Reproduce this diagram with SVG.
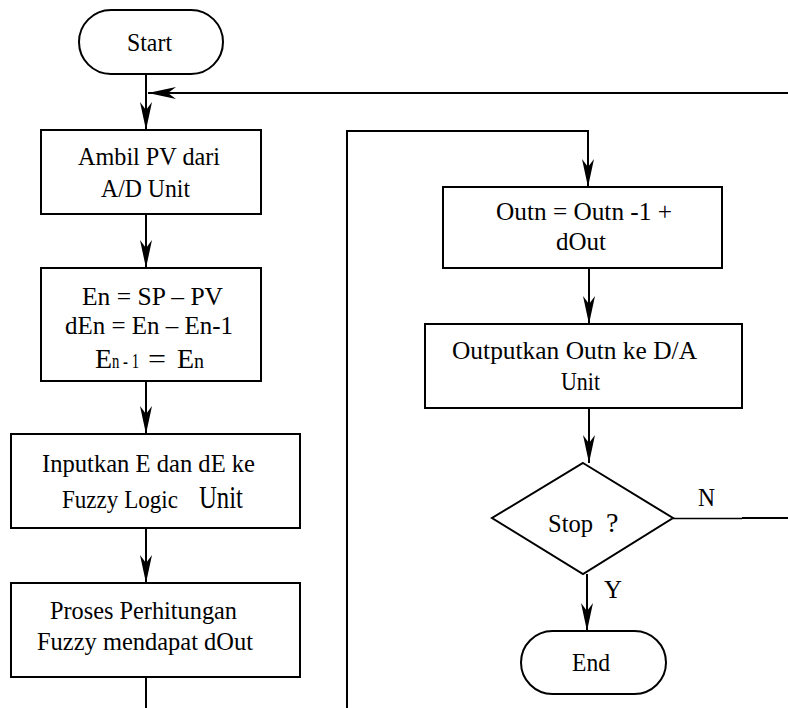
<svg xmlns="http://www.w3.org/2000/svg" width="788" height="708" viewBox="0 0 788 708">
<style>
.box{fill:#fff;stroke:#000;stroke-width:2}
.ln{fill:none;stroke:#000;stroke-width:2}
text{font-family:'Liberation Serif','Times New Roman',serif;font-size:26px;fill:#000}
</style>
<defs>
<marker id="ah" viewBox="-31 -7 32 14" refX="0" refY="0" markerWidth="32" markerHeight="14" markerUnits="userSpaceOnUse" orient="auto">
<path d="M0,0 L-28,-6 L-20,0 L-28,6 Z" fill="#000"/>
</marker>
</defs>
<rect width="788" height="708" fill="#fff"/>
<g id="connectors">
<path class="ln" d="M146,74 V130" marker-end="url(#ah)"/>
<path class="ln" d="M788,93 H148" marker-end="url(#ah)"/>
<path class="ln" d="M146,214 V268" marker-end="url(#ah)"/>
<path class="ln" d="M146,381 V434" marker-end="url(#ah)"/>
<path class="ln" d="M146,528 V583" marker-end="url(#ah)"/>
<path class="ln" d="M146,677 V708"/>
<path class="ln" d="M347,708 V131 H588 V187" marker-end="url(#ah)"/>
<path class="ln" d="M589,268 V324" marker-end="url(#ah)"/>
<path class="ln" d="M589,408 V463" marker-end="url(#ah)"/>
<path class="ln" d="M587,574 V631" marker-end="url(#ah)"/>
<path fill="none" stroke="#000" stroke-width="1.4" d="M673,518.5 H742"/>
<path class="ln" d="M742,518 H788"/>
<text font-family="Liberation Serif, serif" x="698" y="506" textLength="17" lengthAdjust="spacingAndGlyphs">N</text>
<text font-family="Liberation Serif, serif" x="604" y="598" textLength="18" lengthAdjust="spacingAndGlyphs">Y</text>
</g>
<g id="start" font-family="Liberation Serif, serif">
<rect class="box" x="79" y="10" width="144" height="64" rx="32" ry="32"/>
<text x="127" y="51" textLength="45" lengthAdjust="spacingAndGlyphs">Start</text>
</g>
<g id="ambil" font-family="Liberation Serif, serif">
<rect class="box" x="41" y="130" width="220" height="84"/>
<text x="78" y="165" textLength="142" lengthAdjust="spacingAndGlyphs">Ambil PV dari</text>
<text x="101" y="197" textLength="89" lengthAdjust="spacingAndGlyphs">A/D Unit</text>
</g>
<g id="hitung-error" font-family="Liberation Serif, serif">
<rect class="box" x="41" y="268" width="220" height="113"/>
<text x="82" y="305" textLength="141" lengthAdjust="spacingAndGlyphs">En = SP – PV</text>
<text x="65" y="334" textLength="168" lengthAdjust="spacingAndGlyphs">dEn = En – En-1</text>
<text y="368"><tspan x="95" style="font-size:28px">E</tspan><tspan x="112" style="font-size:20px" textLength="27" lengthAdjust="spacingAndGlyphs">n - 1</tspan><tspan x="148" style="font-size:28px" textLength="18" lengthAdjust="spacingAndGlyphs">=</tspan><tspan x="177" style="font-size:28px">E</tspan><tspan x="194" style="font-size:20px">n</tspan></text>
</g>
<g id="input-fuzzy" font-family="Liberation Serif, serif">
<rect class="box" x="11" y="434" width="289" height="94"/>
<text x="42" y="472" textLength="213" lengthAdjust="spacingAndGlyphs">Inputkan E dan dE ke</text>
<text x="62" y="508" textLength="116" lengthAdjust="spacingAndGlyphs">Fuzzy Logic</text>
<text x="199" y="508" style="font-size:31px" textLength="44" lengthAdjust="spacingAndGlyphs">Unit</text>
</g>
<g id="proses" font-family="Liberation Serif, serif">
<rect class="box" x="11" y="583" width="289" height="94"/>
<text x="50" y="619" textLength="187" lengthAdjust="spacingAndGlyphs">Proses Perhitungan</text>
<text x="37" y="650" textLength="216" lengthAdjust="spacingAndGlyphs">Fuzzy mendapat dOut</text>
</g>
<g id="outn" font-family="Liberation Serif, serif">
<rect class="box" x="443" y="187" width="279" height="81"/>
<text x="496" y="220" textLength="176" lengthAdjust="spacingAndGlyphs">Outn = Outn -1 +</text>
<text x="556" y="250" textLength="50" lengthAdjust="spacingAndGlyphs">dOut</text>
</g>
<g id="output" font-family="Liberation Serif, serif">
<rect class="box" x="425" y="324" width="317" height="84"/>
<text x="452" y="359" textLength="245" lengthAdjust="spacingAndGlyphs">Outputkan Outn  ke D/A</text>
<text x="561" y="390" textLength="39" lengthAdjust="spacingAndGlyphs">Unit</text>
</g>
<g id="stop" font-family="Liberation Serif, serif">
<polygon class="box" points="583,463 673,518 583,574 492,518"/>
<text x="548" y="532" textLength="45" lengthAdjust="spacingAndGlyphs">Stop</text>
<text x="606" y="532" style="font-size:28px">?</text>
</g>
<g id="end" font-family="Liberation Serif, serif">
<rect class="box" x="521" y="631" width="145" height="63" rx="31.5" ry="31.5"/>
<text x="572" y="671" textLength="38" lengthAdjust="spacingAndGlyphs">End</text>
</g>
</svg>
